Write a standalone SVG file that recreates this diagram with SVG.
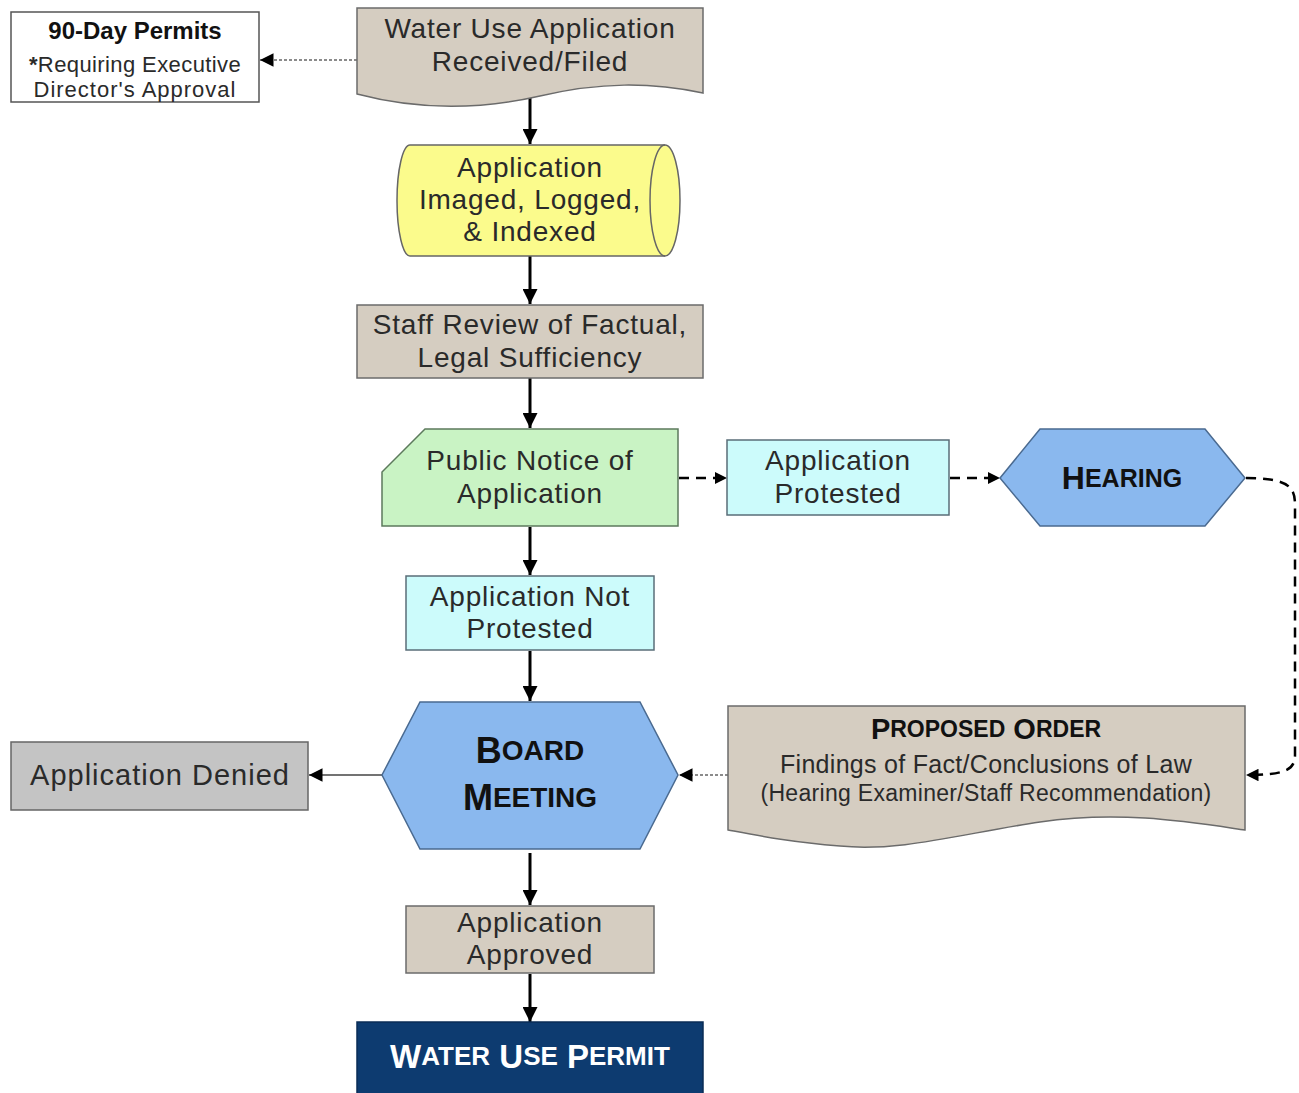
<svg xmlns="http://www.w3.org/2000/svg" width="1299" height="1093" viewBox="0 0 1299 1093">
<style>
  text { font-family: "Liberation Sans", "DejaVu Sans", sans-serif; fill: #2a2a2a; text-anchor: middle; dominant-baseline: central; }
  .t { font-size: 28px; letter-spacing: 0.8px; }
  .b { font-weight: bold; fill: #111; }
  .tan { fill: #d5cdc1; stroke: #6b6b6b; stroke-width: 1.5; }
  .cyan { fill: #ccfbfb; stroke: #5a6e78; stroke-width: 1.5; }
  .blue { fill: #8ab8ee; stroke: #4a6a90; stroke-width: 1.5; }
  .solid { stroke: #000; stroke-width: 3; fill: none; marker-end: url(#ah); }
  .dash { stroke: #000; stroke-width: 2.5; fill: none; stroke-dasharray: 10 7; marker-end: url(#ah); }
  .dot { stroke: #666; stroke-width: 1.5; fill: none; stroke-dasharray: 3 2; marker-end: url(#ah2); }
  .thin { stroke: #444; stroke-width: 1.5; fill: none; marker-end: url(#ah2); }
</style>
<defs>
  <marker id="ah" viewBox="0 0 10 10" refX="10" refY="5" markerWidth="5" markerHeight="5" markerUnits="strokeWidth" orient="auto">
    <path d="M0,0 L10,5 L0,10 Z" fill="#000"/>
  </marker>
  <marker id="ah2" viewBox="0 0 10 10" refX="10" refY="5" markerWidth="9" markerHeight="9" markerUnits="strokeWidth" orient="auto">
    <path d="M0,0 L10,5 L0,10 Z" fill="#000"/>
  </marker>
</defs>
<rect width="1299" height="1093" fill="#fff"/>

<g id="connectors">
  <line class="dot" x1="357" y1="60" x2="260" y2="60"/>
  <line class="solid" x1="530" y1="97" x2="530" y2="144"/>
  <line class="solid" x1="530" y1="256" x2="530" y2="304"/>
  <line class="solid" x1="530" y1="378" x2="530" y2="428"/>
  <line class="dash" x1="679" y1="478" x2="727" y2="478"/>
  <line class="dash" x1="950" y1="478" x2="1000" y2="478"/>
  <path class="dash" d="M1246,478 C1290,478 1295,488 1295,505 L1295,755 C1295,770 1285,775 1246,775"/>
  <line class="solid" x1="530" y1="527" x2="530" y2="575"/>
  <line class="solid" x1="530" y1="651" x2="530" y2="701"/>
  <line class="dot" x1="728" y1="775" x2="679" y2="775"/>
  <line class="thin" x1="382" y1="775" x2="309" y2="775"/>
  <line class="solid" x1="530" y1="853" x2="530" y2="905"/>
  <line class="solid" x1="530" y1="974" x2="530" y2="1022"/>
</g>

<g id="n-90day">
  <rect x="11" y="12" width="248" height="90" fill="#fff" stroke="#555" stroke-width="1.5"/>
  <text x="135" y="30" class="b" style="font-size:24px">90-Day Permits</text>
  <text x="135" y="64" style="font-size:22px;letter-spacing:0.4px"><tspan style="font-weight:bold">*</tspan>Requiring Executive</text>
  <text x="135" y="89" style="font-size:22px;letter-spacing:1px">Director's Approval</text>
</g>

<g id="n-received">
  <path class="tan" d="M357,8 H703 V93 C650,82 600,82 540,96 C470,112 410,108 357,94 Z"/>
  <text x="530" y="28" class="t">Water Use Application</text>
  <text x="530" y="61" class="t">Received/Filed</text>
</g>

<g id="n-imaged">
  <path d="M410,145 H665 A15,55.5 0 0 1 665,256 H410 A13,55.5 0 0 1 410,145 Z" fill="#fbfb8c" stroke="#666" stroke-width="1.5"/>
  <path d="M665,145 A15,55.5 0 0 0 665,256" fill="none" stroke="#666" stroke-width="1.5"/>
  <text x="530" y="167" class="t">Application</text>
  <text x="530" y="199" class="t">Imaged, Logged,</text>
  <text x="530" y="231" class="t">&amp; Indexed</text>
</g>

<g id="n-staff">
  <rect class="tan" x="357" y="305" width="346" height="73"/>
  <text x="530" y="324" class="t">Staff Review of Factual,</text>
  <text x="530" y="357" class="t">Legal Sufficiency</text>
</g>

<g id="n-notice">
  <path d="M425,429 H678 V526 H382 V472 Z" fill="#c9f3c4" stroke="#5c7a5c" stroke-width="1.5"/>
  <text x="530" y="460" class="t">Public Notice of</text>
  <text x="530" y="493" class="t">Application</text>
</g>

<g id="n-protested">
  <rect class="cyan" x="727" y="440" width="222" height="75"/>
  <text x="838" y="460" class="t">Application</text>
  <text x="838" y="493" class="t">Protested</text>
</g>

<g id="n-hearing">
  <polygon class="blue" points="1000,478 1040,429 1205,429 1245,478 1205,526 1040,526"/>
  <text x="1122" y="478" class="b" style="font-size:32px">H<tspan style="font-size:25px">EARING</tspan></text>
</g>

<g id="n-notprotested">
  <rect class="cyan" x="406" y="576" width="248" height="74"/>
  <text x="530" y="596" class="t">Application Not</text>
  <text x="530" y="628" class="t">Protested</text>
</g>

<g id="n-board">
  <polygon class="blue" points="420,702 640,702 678,775 640,849 420,849 382,775"/>
  <text x="530" y="750" class="b" style="font-size:36px">B<tspan style="font-size:28px">OARD</tspan></text>
  <text x="530" y="797" class="b" style="font-size:36px">M<tspan style="font-size:28px">EETING</tspan></text>
</g>

<g id="n-denied">
  <rect x="11" y="742" width="297" height="68" fill="#c4c4c4" stroke="#666" stroke-width="1.5"/>
  <text x="160" y="775" style="font-size:29px;letter-spacing:1px">Application Denied</text>
</g>

<g id="n-proposed">
  <path class="tan" d="M728,706 H1245 V830 C1190,822 1120,810 1040,822 C960,834 900,852 840,846 C790,842 760,836 728,830 Z"/>
  <text x="986" y="729" class="b" style="font-size:29px">P<tspan style="font-size:23px">ROPOSED</tspan> O<tspan style="font-size:23px">RDER</tspan></text>
  <text x="986" y="764" style="font-size:25px;letter-spacing:0.3px">Findings of Fact/Conclusions of Law</text>
  <text x="986" y="793" style="font-size:23px;letter-spacing:0.3px">(Hearing Examiner/Staff Recommendation)</text>
</g>

<g id="n-approved">
  <rect class="tan" x="406" y="906" width="248" height="67"/>
  <text x="530" y="922" class="t">Application</text>
  <text x="530" y="954" class="t">Approved</text>
</g>

<g id="n-permit">
  <rect x="357" y="1022" width="346" height="75" fill="#0d3b70" stroke="#0a2c55" stroke-width="1.5"/>
  <text x="530" y="1056" class="b" style="font-size:33px;fill:#fff">W<tspan style="font-size:26px">ATER</tspan> U<tspan style="font-size:26px">SE</tspan> P<tspan style="font-size:26px">ERMIT</tspan></text>
</g>
</svg>
